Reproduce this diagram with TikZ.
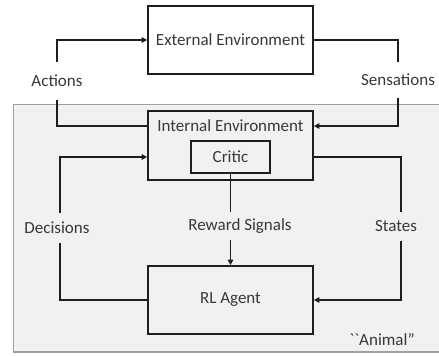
\documentclass[tikz,border=0pt]{standalone}
\usepackage{fontspec}
\setmainfont{Carlito}
\usetikzlibrary{arrows.meta}
\definecolor{txt}{HTML}{383838}
\definecolor{ln}{HTML}{1E1E1E}
\definecolor{reg}{HTML}{F1F1F1}
\definecolor{regb}{HTML}{A0A0A0}
\begin{document}
\begin{tikzpicture}[x=1pt,y=-1pt,
  font=\fontsize{17}{20}\selectfont,
  box/.style={draw=ln,line width=1.7pt,minimum width=165pt,text=txt,inner sep=0pt},
  lbl/.style={text=txt,inner sep=0pt,minimum height=#1},
  conn/.style={draw=ln,line width=1.7pt},
  arr/.style={conn,-{Triangle[length=5.5pt,width=5.5pt]}}]
\useasboundingbox (0,0) rectangle (439,356);
% region
\fill[reg] (13,104) rectangle (441,352);
\draw[regb,line width=1pt] (441,104) -- (13,104) -- (13,352) -- (441,352);
\draw[regb,line width=2pt] (13,352) -- (441,352);
% boxes
\node[box,minimum height=68pt] (ext) at (230.5,40) {External Environment};
\node[box,minimum height=69pt] (int) at (230.5,145.5) {};
\node[text=txt,inner sep=0pt] (intlbl) at (230.5,126) {Internal Environment};
\node[box,minimum width=79pt,minimum height=32pt] (critic) at (230.5,157) {Critic};
\node[box,minimum height=68pt] (rl) at (230.5,300) {RL Agent};
% labels
\node[lbl=38pt] (act) at (57,81) {Actions};
\node[lbl=36pt] (sens) at (398,80) {Sensations};
\node[lbl=30pt] (dec) at (57,228) {Decisions};
\node[lbl=28pt] (rew) at (240,226) {Reward Signals};
\node[lbl=29pt] (sta) at (396,226.5) {States};
\node[text=txt,inner sep=0pt] (animal) at (382,340) {\textasciigrave\textasciigrave Animal''};
\coordinate (sx) at (401,0);
\coordinate (dx) at (60,0);
% connectors
\draw[arr] (act.north) |- (ext.west);
\draw[conn] (act.south) |- (int.west |- intlbl);
\draw[conn] (ext.east) -| (sens.north);
\draw[arr] (sens.south) |- (int.east |- intlbl);
\draw[arr] (dec.north -| dx) |- (int.west |- critic);
\draw[conn] (dec.south -| dx) |- (rl.west);
\draw[conn] (critic.south) -- (critic.south |- rew.north);
\draw[arr] (critic.south |- rew.south) -- (rl.north);
\draw[conn] (int.east |- critic) -| (sta.north -| sx);
\draw[arr] (sta.south -| sx) |- (rl.east);
\end{tikzpicture}
\end{document}
